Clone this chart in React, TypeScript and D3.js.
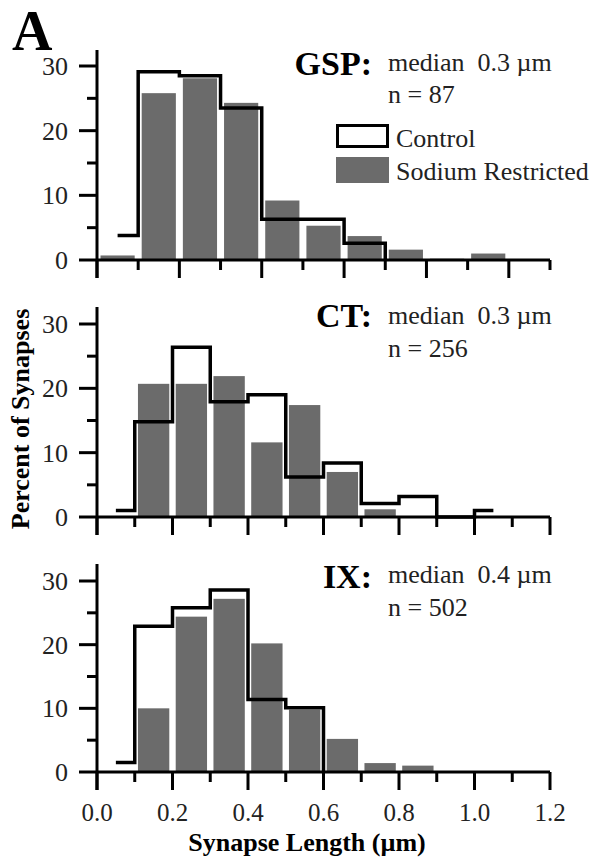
import { useEffect, useRef } from "react";
import * as d3 from "d3";

// bin width of the histograms (µm)
const BIN = 0.1;

// GSP: sodium restricted bars start at 0.0, one value per 0.1 bin
const gspRestricted = [0.7, 25.8, 28.1, 24.3, 9.2, 5.3, 3.7, 1.6, 0.2, 1.0, 0.1];
// control outline: step edges and the value that starts at each edge
const gspControlEdges = [0.05, 0.1, 0.2, 0.3, 0.4, 0.5, 0.6, 0.7];
const gspControl = [3.8, 29.1, 28.5, 23.5, 6.3, 6.3, 2.6, 0];

// CT
const ctRestricted = [0, 20.7, 20.7, 21.9, 11.6, 17.4, 7.0, 1.2];
const ctControlEdges = [0.05, 0.1, 0.2, 0.3, 0.4, 0.5, 0.6, 0.7, 0.8, 0.9, 1.0, 1.05];
const ctControl = [1.0, 14.8, 26.4, 17.9, 19.0, 6.2, 8.4, 2.1, 3.2, 0, 1.0, 1.0];

// IX
const ixRestricted = [0, 10.0, 24.4, 27.2, 20.2, 9.8, 5.2, 1.4, 1.0, 0.15, 0.1];
const ixControlEdges = [0.05, 0.1, 0.2, 0.3, 0.4, 0.5, 0.6];
const ixControl = [1.5, 22.9, 25.8, 28.6, 11.4, 10.1, 0];

const yTickLabels = [0, 10, 20, 30];
const yMinorTicks = [5, 15, 25];
const xTickLabels = ["0.0", "0.2", "0.4", "0.6", "0.8", "1.0", "1.2"];

const panelNames = ["GSP:", "CT:", "IX:"];
const medians = ["median  0.3 µm", "median  0.3 µm", "median  0.4 µm"];
const counts = ["n = 87", "n = 256", "n = 502"];
const legendLabels = ["Control", "Sodium Restricted"];

const GREY = "#6b6b6b";
const FONT = "'Liberation Serif', 'Times New Roman', serif";

export default function App() {
  const svgRef = useRef<SVGSVGElement>(null);

  useEffect(() => {
    const svg = d3.select(svgRef.current);
    svg.selectAll("*").remove();

    const left = 97;
    const right = 550;

    const panels = [
      { restricted: gspRestricted, edges: gspControlEdges, control: gspControl,
        xMax: 1.1, y0: 260, y30: 66, top: 50, nameY: 75, medY: 71, nY: 103 },
      { restricted: ctRestricted, edges: ctControlEdges, control: ctControl,
        xMax: 1.2, y0: 517, y30: 324, top: 307, nameY: 327, medY: 324, nY: 357 },
      { restricted: ixRestricted, edges: ixControlEdges, control: ixControl,
        xMax: 1.2, y0: 772, y30: 581, top: 564, nameY: 588, medY: 583, nY: 616 },
    ];

    panels.forEach((p, pi) => {
      const x = d3.scaleLinear().domain([0, p.xMax]).range([left, right]);
      const y = d3.scaleLinear().domain([0, 30]).range([p.y0, p.y30]);
      const g = svg.append("g");
      const binW = x(BIN) - x(0);
      const pad = binW * 0.085;

      // restricted bars
      g.selectAll("rect.bar")
        .data(p.restricted)
        .join("rect")
        .attr("x", (d, i) => x(i * BIN) + pad)
        .attr("width", binW - 2 * pad)
        .attr("y", d => y(d))
        .attr("height", d => y(0) - y(d))
        .attr("fill", GREY);

      // axes
      const ticksX = d3.range(0, Math.round(p.xMax / BIN) + 1).map(i => i * BIN);
      g.append("line")
        .attr("x1", x(0)).attr("x2", x(p.xMax))
        .attr("y1", y(0)).attr("y2", y(0))
        .attr("stroke", "#000").attr("stroke-width", 3);
      g.append("line")
        .attr("x1", x(0)).attr("x2", x(0))
        .attr("y1", p.top).attr("y2", y(0) + 18)
        .attr("stroke", "#000").attr("stroke-width", 3);

      g.selectAll("line.xt")
        .data(ticksX)
        .join("line")
        .attr("x1", d => x(d)).attr("x2", d => x(d))
        .attr("y1", y(0))
        .attr("y2", (d, i) => y(0) + (i % 2 === 0 ? 18 : 10))
        .attr("stroke", "#000").attr("stroke-width", 3);

      g.selectAll("line.ytM")
        .data(yTickLabels)
        .join("line")
        .attr("x1", x(0) - 18).attr("x2", x(0))
        .attr("y1", d => y(d)).attr("y2", d => y(d))
        .attr("stroke", "#000").attr("stroke-width", 3);
      g.selectAll("line.ytm")
        .data(yMinorTicks)
        .join("line")
        .attr("x1", x(0) - 10).attr("x2", x(0))
        .attr("y1", d => y(d)).attr("y2", d => y(d))
        .attr("stroke", "#000").attr("stroke-width", 3);

      g.selectAll("text.yl")
        .data(yTickLabels)
        .join("text")
        .attr("x", x(0) - 29)
        .attr("y", d => y(d))
        .attr("dy", "0.35em")
        .attr("text-anchor", "end")
        .style("font-family", FONT)
        .style("font-size", "26px")
        .style("fill", "#222")
        .text(d => d);

      // control outline
      const line = d3.line<number>()
        .x(d => x(d))
        .y((d, i) => y(p.control[i]))
        .curve(d3.curveStepAfter);
      g.append("path")
        .attr("d", line(p.edges))
        .attr("fill", "none")
        .attr("stroke", "#000")
        .attr("stroke-width", 3.5);

      // annotations
      g.append("text")
        .attr("x", 372).attr("y", p.nameY)
        .attr("text-anchor", "end")
        .style("font-family", FONT)
        .style("font-weight", "700")
        .style("font-size", "34px")
        .text(panelNames[pi]);
      g.append("text")
        .attr("x", 388).attr("y", p.medY)
        .style("font-family", FONT)
        .style("font-size", "26px")
        .style("white-space", "pre")
        .style("fill", "#222")
        .text(medians[pi]);
      g.append("text")
        .attr("x", 388).attr("y", p.nY)
        .style("font-family", FONT)
        .style("font-size", "26px")
        .style("fill", "#222")
        .text(counts[pi]);

      if (pi === 2) {
        g.selectAll("text.xl")
          .data(xTickLabels)
          .join("text")
          .attr("x", d => x(+d))
          .attr("y", 821)
          .attr("text-anchor", "middle")
          .style("font-family", FONT)
          .style("font-size", "25px")
          .style("fill", "#222")
          .text(d => d);
      }
    });

    // legend (top panel)
    svg.append("rect")
      .attr("x", 337.5).attr("y", 125.5)
      .attr("width", 50).attr("height", 21)
      .attr("fill", "#fff").attr("stroke", "#000").attr("stroke-width", 3);
    svg.append("rect")
      .attr("x", 336).attr("y", 157)
      .attr("width", 53).attr("height", 26)
      .attr("fill", GREY);
    svg.selectAll("text.lg")
      .data(legendLabels)
      .join("text")
      .attr("x", 396)
      .attr("y", (d, i) => (i === 0 ? 147 : 180))
      .style("font-family", FONT)
      .style("font-size", "26px")
      .style("fill", "#222")
      .text(d => d);

    // panel letter
    svg.append("text")
      .attr("x", 12).attr("y", 50)
      .style("font-family", FONT)
      .style("font-weight", "700")
      .style("font-size", "56px")
      .text("A");

    // axis titles
    svg.append("text")
      .attr("x", 307).attr("y", 851)
      .attr("text-anchor", "middle")
      .style("font-family", FONT)
      .style("font-weight", "700")
      .style("font-size", "26px")
      .text("Synapse Length (µm)");
    svg.append("text")
      .attr("transform", "translate(29,419) rotate(-90)")
      .attr("text-anchor", "middle")
      .style("font-family", FONT)
      .style("font-weight", "700")
      .style("font-size", "26px")
      .text("Percent of Synapses");
  }, []);

  return (
    <svg
      ref={svgRef}
      width={596}
      height={858}
      style={{ position: "absolute", left: 0, top: 0, background: "#fff" }}
    />
  );
}
